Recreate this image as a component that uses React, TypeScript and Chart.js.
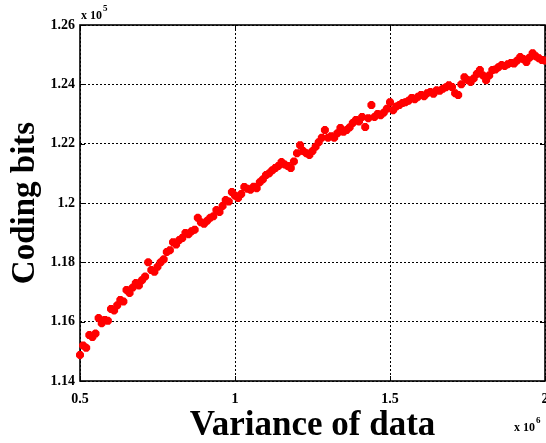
import React, { useEffect, useRef } from 'react';
import { Chart, registerables } from 'chart.js';

Chart.register(...registerables);

// x values in units of 10^6
const xValues: number[] = [
  0.50, 0.51, 0.52, 0.53, 0.54, 0.55, 0.56, 0.57, 0.58, 0.59,
  0.60, 0.61, 0.62, 0.63, 0.64, 0.65, 0.66, 0.67, 0.68, 0.69,
  0.70, 0.71, 0.72, 0.73, 0.74, 0.75, 0.76, 0.77, 0.78, 0.79,
  0.80, 0.81, 0.82, 0.83, 0.84, 0.85, 0.86, 0.87, 0.88, 0.89,
  0.90, 0.91, 0.92, 0.93, 0.94, 0.95, 0.96, 0.97, 0.98, 0.99,
  1.00, 1.01, 1.02, 1.03, 1.04, 1.05, 1.06, 1.07, 1.08, 1.09,
  1.10, 1.11, 1.12, 1.13, 1.14, 1.15, 1.16, 1.17, 1.18, 1.19,
  1.20, 1.21, 1.22, 1.23, 1.24, 1.25, 1.26, 1.27, 1.28, 1.29,
  1.30, 1.31, 1.32, 1.33, 1.34, 1.35, 1.36, 1.37, 1.38, 1.39,
  1.40, 1.41, 1.42, 1.43, 1.44, 1.45, 1.46, 1.47, 1.48, 1.49,
  1.50, 1.51, 1.52, 1.53, 1.54, 1.55, 1.56, 1.57, 1.58, 1.59,
  1.60, 1.61, 1.62, 1.63, 1.64, 1.65, 1.66, 1.67, 1.68, 1.69,
  1.70, 1.71, 1.72, 1.73, 1.74, 1.75, 1.76, 1.77, 1.78, 1.79,
  1.80, 1.81, 1.82, 1.83, 1.84, 1.85, 1.86, 1.87, 1.88, 1.89,
  1.90, 1.91, 1.92, 1.93, 1.94, 1.95, 1.96, 1.97, 1.98, 1.99, 2.00,
];

// coding bits in units of 10^5
const codingBits: number[] = [
  1.1488, 1.1520, 1.1512, 1.1555, 1.1548, 1.1560, 1.1612, 1.1595, 1.1606, 1.1603,
  1.1643, 1.1638, 1.1655, 1.1673, 1.1668, 1.1707, 1.1697, 1.1715, 1.1730, 1.1722,
  1.1740, 1.1752, 1.1800, 1.1774, 1.1768, 1.1785, 1.1800, 1.1810, 1.1835, 1.1841,
  1.1868, 1.1860, 1.1875, 1.1882, 1.1899, 1.1895, 1.1905, 1.1910, 1.1950, 1.1935,
  1.1930, 1.1940, 1.1950, 1.1955, 1.1976, 1.1970, 1.1990, 1.2010, 1.2005, 1.2037,
  1.2025, 1.2017, 1.2030, 1.2054, 1.2048, 1.2045, 1.2055, 1.2050, 1.2070, 1.2080,
  1.2094, 1.2100, 1.2110, 1.2118, 1.2125, 1.2138, 1.2130, 1.2125, 1.2118, 1.2140,
  1.2168, 1.2195, 1.2175, 1.2168, 1.2162, 1.2175, 1.2190, 1.2205, 1.2220, 1.2246,
  1.2220, 1.2225, 1.2220, 1.2235, 1.2253, 1.2240, 1.2246, 1.2255, 1.2270, 1.2280,
  1.2275, 1.2290, 1.2256, 1.2286, 1.2330, 1.2290, 1.2300, 1.2296, 1.2305, 1.2318,
  1.2340, 1.2313, 1.2325, 1.2330, 1.2337, 1.2340, 1.2345, 1.2354, 1.2350, 1.2358,
  1.2364, 1.2360, 1.2370, 1.2374, 1.2368, 1.2380, 1.2378, 1.2385, 1.2390, 1.2397,
  1.2391, 1.2370, 1.2364, 1.2400, 1.2424, 1.2415, 1.2408, 1.2420, 1.2435, 1.2448,
  1.2430, 1.2414, 1.2430, 1.2448, 1.2450, 1.2458, 1.2465, 1.2462, 1.2468, 1.2472,
  1.2470, 1.2480, 1.2492, 1.2485, 1.2475, 1.2490, 1.2505, 1.2495, 1.2488, 1.2482, 1.2480,
];

const xTickValues: number[] = [0.5, 1, 1.5, 2];
const xTickLabels: string[] = ['0.5', '1', '1.5', '2'];
const yTickValues: number[] = [1.14, 1.16, 1.18, 1.2, 1.22, 1.24, 1.26];
const yTickLabels: string[] = ['1.14', '1.16', '1.18', '1.2', '1.22', '1.24', '1.26'];

const xTitle = 'Variance of data';
const yTitle = 'Coding bits';
const xExponent = '6';
const yExponent = '5';

const SERIF = '"Liberation Serif", "Times New Roman", serif';

function labelFor(values: number[], labels: string[], v: number): string {
  for (let i = 0; i < values.length; i++) {
    if (Math.abs(values[i] - v) < 1e-6) return labels[i];
  }
  return '';
}

const framePlugin = {
  id: 'matlabFrame',
  beforeDatasetsDraw(chart: any) {
    const { ctx, chartArea: a, scales } = chart;
    ctx.save();
    ctx.setLineDash([]);
    ctx.strokeStyle = '#000';
    ctx.lineWidth = 1;
    const tl = 5;
    ctx.beginPath();
    xTickValues.forEach((v) => {
      const px = Math.round(scales.x.getPixelForValue(v)) + 0.5;
      ctx.moveTo(px, a.bottom);
      ctx.lineTo(px, a.bottom - tl);
      ctx.moveTo(px, a.top);
      ctx.lineTo(px, a.top + tl);
    });
    yTickValues.forEach((v) => {
      const py = Math.round(scales.y.getPixelForValue(v)) + 0.5;
      ctx.moveTo(a.left, py);
      ctx.lineTo(a.left + tl, py);
      ctx.moveTo(a.right, py);
      ctx.lineTo(a.right - tl, py);
    });
    ctx.stroke();
    ctx.lineWidth = 1.6;
    ctx.strokeRect(a.left, a.top, a.right - a.left, a.bottom - a.top);
    ctx.restore();
  },
  afterDraw(chart: any) {
    const { ctx, chartArea: a } = chart;
    ctx.save();
    ctx.fillStyle = '#000';
    ctx.textBaseline = 'alphabetic';
    ctx.textAlign = 'left';
    ctx.font = `bold 12px ${SERIF}`;
    ctx.fillText('x 10', a.left + 1, a.top - 6);
    const w1 = ctx.measureText('x 10').width;
    ctx.font = `bold 9px ${SERIF}`;
    ctx.fillText(yExponent, a.left + 2 + w1, a.top - 14);
    ctx.font = `bold 12px ${SERIF}`;
    ctx.fillText('x 10', 514, 431);
    const w2 = ctx.measureText('x 10').width;
    ctx.font = `bold 9px ${SERIF}`;
    ctx.fillText(xExponent, 515 + w2, 423);
    ctx.restore();
  },
};

export default function App() {
  const ref = useRef<HTMLCanvasElement | null>(null);

  useEffect(() => {
    if (!ref.current) return;
    const tickFont = { family: SERIF, size: 14, weight: 'bold' as const };
    const chart = new Chart(ref.current, {
      type: 'scatter',
      data: {
        datasets: [
          {
            label: 'Coding bits',
            data: xValues.map((x, i) => ({ x, y: codingBits[i] })),
            pointStyle: 'star',
            pointRadius: 4,
            borderWidth: 3,
            borderColor: '#ff0000',
            backgroundColor: '#ff0000',
            clip: false as any,
          },
        ],
      },
      plugins: [framePlugin],
      options: {
        animation: false,
        responsive: false,
        layout: { autoPadding: false, padding: { top: 25, right: 1, left: 0, bottom: 0 } },
        plugins: {
          legend: { display: false },
          tooltip: { enabled: false },
        },
        scales: {
          x: {
            type: 'linear',
            min: 0.5,
            max: 2,
            afterFit: (s: any) => {
              s.height = 62;
              s.paddingLeft = 0;
              s.paddingRight = 0;
            },
            ticks: {
              stepSize: 0.5,
              autoSkip: false,
              maxRotation: 0,
              padding: 10,
              color: '#000',
              font: tickFont,
              callback: (v: any) => labelFor(xTickValues, xTickLabels, Number(v)),
            },
            grid: { color: '#000', lineWidth: 1, drawTicks: false },
            border: { display: false, dash: [2, 2] },
            title: {
              display: true,
              text: xTitle,
              color: '#000',
              font: { family: SERIF, size: 35, weight: 'bold', lineHeight: 1 },
              padding: { top: 0, bottom: 0 },
            },
          },
          y: {
            type: 'linear',
            min: 1.14,
            max: 1.26,
            afterFit: (s: any) => {
              s.width = 80;
            },
            ticks: {
              stepSize: 0.02,
              autoSkip: false,
              padding: 5,
              color: '#000',
              font: tickFont,
              callback: (v: any) => labelFor(yTickValues, yTickLabels, Number(v)),
            },
            grid: { color: '#000', lineWidth: 1, drawTicks: false },
            border: { display: false, dash: [2, 2] },
            title: {
              display: true,
              text: yTitle,
              color: '#000',
              font: { family: SERIF, size: 33, weight: 'bold', lineHeight: 1.2 },
              padding: { top: 6, bottom: 0 },
            },
          },
        },
      },
    });
    return () => chart.destroy();
  }, []);

  return (
    <div style={{ position: 'absolute', left: 0, top: 0, width: 546, height: 443 }}>
      <canvas ref={ref} width={546} height={443} style={{ display: 'block' }} />
    </div>
  );
}
